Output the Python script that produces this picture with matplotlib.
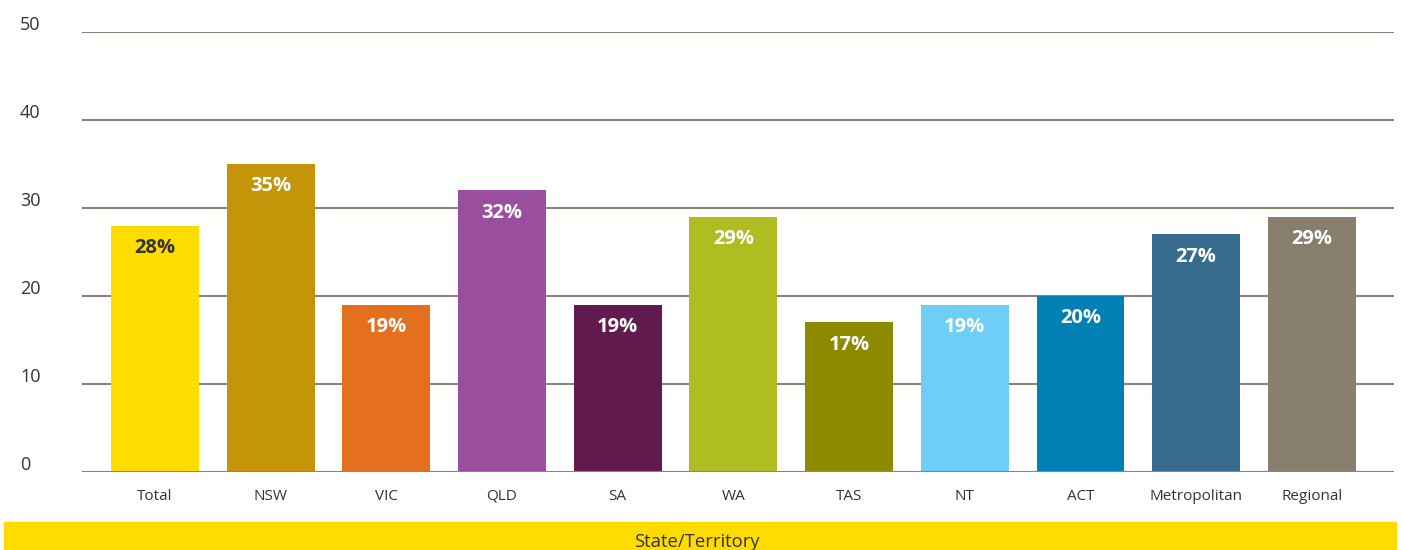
import matplotlib.pyplot as plt
import matplotlib.transforms as mtransforms
from matplotlib.patches import Rectangle

plt.rcParams['font.family'] = ['Open Sans', 'DejaVu Sans']

# Share of respondents by state/territory (%)
categories = ['Total', 'NSW', 'VIC', 'QLD', 'SA', 'WA', 'TAS', 'NT', 'ACT',
              'Metropolitan', 'Regional']
values = [28, 35, 19, 32, 19, 29, 17, 19, 20, 27, 29]
labels = ['28%', '35%', '19%', '32%', '19%', '29%', '17%', '19%', '20%',
          '27%', '29%']
yticks = [0, 10, 20, 30, 40, 50]

colors = ['#FFDC00', '#C49508', '#E4701E', '#9A4E9E', '#611B4E', '#AFBD22',
          '#8E8A00', '#6DCFF6', '#0080B4', '#376C8E', '#887E6E']
label_colors = ['#333333'] + ['white'] * 10
grid_color = '#8F8474'

fig = plt.figure(figsize=(14.02, 5.5), dpi=100)
ax = fig.add_axes([0.0585, 0.1418, 0.9358, 0.80])

x = range(len(categories))
ax.bar(x, values, width=0.76, color=colors, zorder=2)

for xi, v, lab, lc in zip(x, values, labels, label_colors):
    ax.annotate(lab, (xi, v), xytext=(0, -16), textcoords='offset points',
                ha='center', va='center', fontsize=14.5, fontweight='bold',
                color=lc, zorder=3)

ax.set_ylim(0, 50)
ax.set_xlim(-0.63, 10.71)

# horizontal gridlines
for t in yticks:
    ax.axhline(t, color=grid_color, lw=1.5, zorder=1 if t else 2.5)

ax.set_yticks([])
ax.set_xticks(list(x))
ax.set_xticklabels(categories, fontsize=11, color='#333333')
ax.tick_params(axis='x', length=0, pad=12)
for s in ax.spines.values():
    s.set_visible(False)

# y tick labels sit slightly above their gridlines, flush left
shift = mtransforms.ScaledTranslation(0, 7 / 100, fig.dpi_scale_trans)
trans = mtransforms.blended_transform_factory(fig.transFigure, ax.transData) + shift
for t in yticks:
    ax.text(0.0143, t, str(t), transform=trans, ha='left', va='center',
            fontsize=13, color='#333333')

# axis title band
fig.patches.append(Rectangle((4 / 1402, 0), 1392 / 1402, 28 / 550,
                             transform=fig.transFigure, color='#FFDC00',
                             zorder=0))
fig.text(0.497, 8 / 550, 'State/Territory', ha='center', va='center',
         fontsize=13.3, color='#333333')

fig.savefig('out.png', dpi=100)
